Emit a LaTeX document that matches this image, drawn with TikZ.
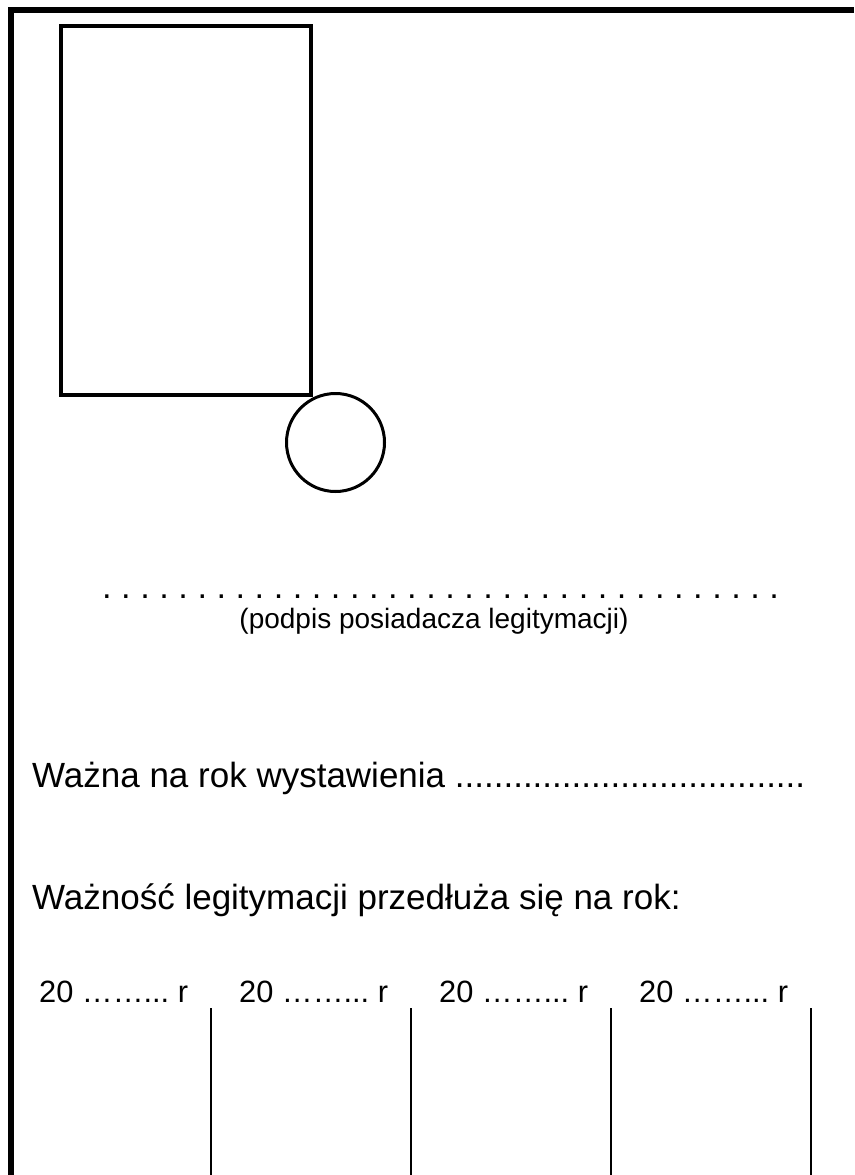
\documentclass[tikz,border=0pt]{standalone}
\usepackage{fontspec}
\setmainfont{Liberation Sans}
\frenchspacing
\newcommand{\sixdots}{. . . . . . }
\begin{document}
\begin{tikzpicture}[x=1pt,y=-1pt,
  bigtxt/.style={inner sep=0pt,font=\fontsize{35}{40}\selectfont\frenchspacing,anchor=base west},
  yeartxt/.style={inner sep=0pt,font=\fontsize{30.8}{36}\selectfont\frenchspacing,anchor=base west},
  smalltxt/.style={inner sep=0pt,font=\fontsize{28}{32}\selectfont\frenchspacing},
  frameline/.style={line width=6pt},
  colline/.style={line width=2pt}]
\useasboundingbox (0,0) rectangle (854,1175);
% outer frame (left and top)
\coordinate (fbl) at (11,1175);
\coordinate (ftl) at (11,9.7);
\coordinate (ftr) at (854,9.7);
\draw[frameline] (fbl) -- (ftl) -- (ftr);
% photo box and stamp circle
\node[draw,line width=4pt,minimum width=250pt,minimum height=369pt,inner sep=0pt,outer sep=0pt,anchor=north west] (photo) at (61,26) {};
\node[draw,line width=3pt,circle,minimum size=98pt,inner sep=0pt,outer sep=0pt] (stamp) at (335.5,442.5) {};
% signature
\node[inner sep=0pt,font=\fontsize{34.3}{40}\selectfont\frenchspacing,anchor=base west] (sigdots) at (102,598)
  {\sixdots\sixdots\sixdots\sixdots\sixdots\sixdots};
\node[smalltxt] (sigcap) at (434,621) {(podpis posiadacza legitymacji)};
% validity
\node[bigtxt] (valid) at (32,787) {Ważna na rok wystawienia ....................................};
\node[bigtxt] (extend) at (32,909) {Ważność legitymacji przedłuża się na rok:};
% years
\foreach \i in {0,1,2,3}{
  \node[yeartxt] (year\i) at (39+200*\i,1002) {20 ……... r};
  \coordinate (ctop\i) at (211+200*\i,1008);
  \coordinate (cbot\i) at (211+200*\i,1175);
  \draw[colline] (ctop\i) -- (cbot\i);
}
\end{tikzpicture}
\end{document}
